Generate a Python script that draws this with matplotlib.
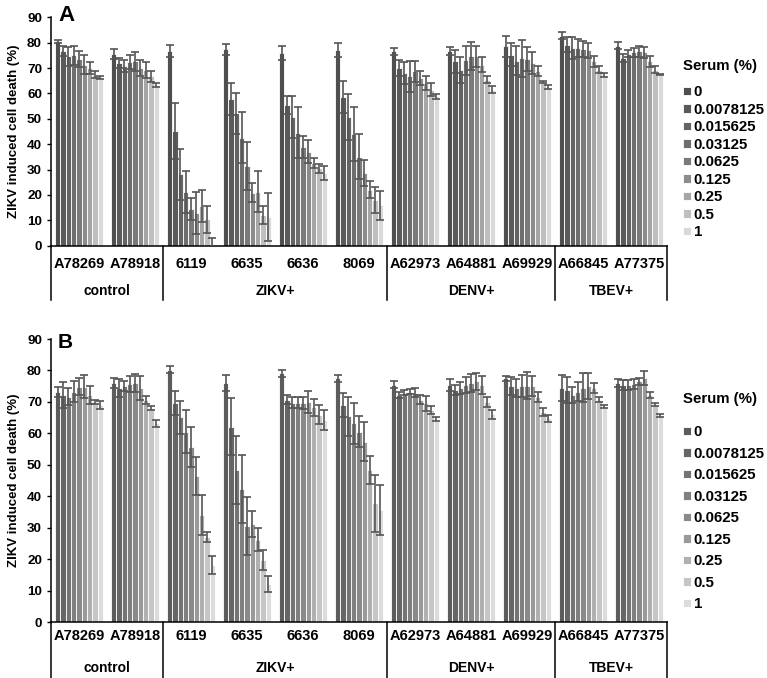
import numpy as np
import matplotlib
matplotlib.use('Agg')
import matplotlib.pyplot as plt

plt.rcParams['font.family'] = ['Liberation Sans', 'DejaVu Sans']
plt.rcParams['font.weight'] = 'bold'

#%%
# Data (ZIKV induced cell death, %)
samples = ['A78269', 'A78918', '6119', '6635', '6636', '8069',
           'A62973', 'A64881', 'A69929', 'A66845', 'A77375']
groups = ['control', 'ZIKV+', 'DENV+', 'TBEV+']
group_sizes = [2, 4, 3, 2]
serum = ['0', '0.0078125', '0.015625', '0.03125', '0.0625',
         '0.125', '0.25', '0.5', '1']

# panel A, one row per sample, one column per serum dilution
a_vals = [
    [80.5, 76.6, 74.6, 75.1, 73.6, 71.3, 70.0, 67.4, 66.4],
    [75.5, 72.0, 70.7, 72.5, 72.6, 70.0, 69.3, 66.7, 63.4],
    [76.6, 45.3, 28.2, 21.3, 14.3, 13.0, 15.6, 10.4, 0.3],
    [77.4, 57.8, 52.2, 42.6, 31.5, 20.9, 21.3, 12.1, 11.4],
    [75.9, 55.5, 50.7, 44.6, 39.0, 37.1, 32.5, 30.5, 28.8],
    [77.2, 58.6, 50.7, 43.9, 35.1, 28.6, 22.0, 18.0, 16.0],
    [76.6, 70.0, 68.0, 66.7, 68.7, 66.0, 64.0, 61.4, 58.8],
    [76.6, 72.6, 69.3, 73.0, 74.6, 74.6, 71.3, 65.4, 61.4],
    [78.6, 75.3, 72.9, 73.9, 73.6, 72.0, 68.7, 64.5, 62.5],
    [82.8, 79.2, 77.9, 77.9, 77.5, 77.0, 72.6, 69.4, 67.2],
    [78.8, 74.0, 75.7, 76.2, 76.6, 76.2, 72.6, 69.4, 67.4],
]
a_errs = [
    [0.5, 2.0, 3.6, 3.7, 3.0, 3.7, 2.2, 1.3, 0.6],
    [2.0, 1.8, 2.3, 2.8, 3.6, 3.3, 3.2, 2.3, 0.9],
    [2.4, 11.0, 10.0, 8.3, 4.3, 8.3, 6.3, 5.3, 2.9],
    [2.1, 6.4, 8.1, 10.0, 9.5, 3.7, 8.1, 3.5, 9.5],
    [2.7, 3.5, 8.3, 9.9, 4.3, 4.6, 2.0, 1.7, 2.8],
    [2.7, 6.4, 9.0, 10.6, 8.9, 5.2, 3.3, 5.0, 5.7],
    [1.3, 3.0, 4.4, 6.2, 4.2, 2.7, 2.7, 2.6, 0.8],
    [1.6, 4.6, 5.0, 5.8, 5.5, 4.2, 3.0, 1.3, 1.4],
    [4.2, 4.6, 5.7, 7.3, 4.7, 4.2, 2.0, 0.3, 0.9],
    [1.4, 3.0, 4.3, 3.5, 3.0, 3.0, 2.2, 1.3, 0.8],
    [1.4, 1.6, 1.5, 1.8, 2.2, 2.1, 2.2, 1.3, 0.3],
]

# panel B
b_vals = [
    [73.3, 72.2, 71.7, 73.3, 74.9, 74.9, 72.2, 70.1, 69.0],
    [76.0, 74.4, 75.1, 75.7, 76.0, 74.4, 70.7, 68.0, 63.2],
    [80.2, 69.8, 65.1, 60.6, 55.8, 46.5, 34.1, 27.2, 18.2],
    [76.0, 62.2, 48.4, 42.3, 30.7, 31.2, 26.2, 19.8, 12.2],
    [79.1, 70.7, 69.8, 69.8, 69.6, 70.0, 68.3, 66.0, 64.3],
    [77.5, 69.1, 65.4, 63.2, 60.6, 57.4, 48.4, 37.8, 35.7],
    [75.4, 72.2, 73.0, 73.3, 73.0, 70.7, 69.6, 67.5, 64.5],
    [75.4, 73.8, 74.4, 75.4, 76.0, 76.5, 75.4, 70.1, 66.1],
    [77.5, 75.1, 74.4, 75.1, 75.1, 75.1, 71.7, 66.9, 64.8],
    [74.4, 73.8, 72.2, 73.3, 74.5, 75.0, 74.5, 70.7, 68.5],
    [76.0, 75.4, 75.4, 75.7, 76.5, 77.5, 72.2, 69.1, 65.6],
]
b_errs = [
    [1.6, 4.0, 2.7, 3.2, 2.6, 3.7, 2.9, 0.6, 1.2],
    [1.5, 2.8, 1.6, 2.6, 2.8, 3.9, 1.2, 0.6, 1.0],
    [1.1, 3.8, 5.2, 6.9, 6.4, 6.1, 6.4, 1.6, 2.9],
    [2.6, 9.0, 10.8, 10.9, 9.2, 4.0, 3.7, 3.2, 2.5],
    [1.1, 1.5, 1.7, 1.7, 1.9, 3.5, 2.7, 3.0, 3.2],
    [1.1, 3.9, 6.3, 6.4, 5.0, 6.1, 4.5, 9.0, 7.9],
    [1.1, 1.1, 0.8, 0.7, 1.3, 1.5, 2.4, 1.3, 0.6],
    [1.8, 1.6, 1.8, 2.5, 2.9, 2.6, 2.9, 1.6, 1.4],
    [0.8, 2.8, 2.8, 3.5, 4.3, 3.2, 1.6, 1.3, 1.1],
    [4.2, 4.2, 2.5, 3.0, 4.6, 4.2, 1.5, 0.8, 0.5],
    [1.3, 1.6, 1.6, 1.5, 1.1, 2.2, 1.1, 0.5, 0.5],
]

a_colors = ['#4f4f4f', '#5a5a5a', '#646464', '#6e6e6e', '#7a7a7a',
            '#8c8c8c', '#a6a6a6', '#bfbfbf', '#d9d9d9']
b_colors = ['#5c5c5c', '#666666', '#747474', '#808080', '#8a8a8a',
            '#9a9a9a', '#b0b0b0', '#c6c6c6', '#dcdcdc']

#%%
W, H = 767, 678
fig = plt.figure(figsize=(W / 100, H / 100), dpi=100)


def draw_panel(ax, vals, errs, colors, letter, label_off, cat_off, line_len,
               leg_top, leg_space, title_sep):
    vals = np.array(vals)
    errs = np.array(errs)
    n_s = len(serum)
    x = np.arange(len(samples))
    w = 48 / 56 / n_s
    handles = []
    for j in range(n_s):
        xs = x + (j - (n_s - 1) / 2) * w
        b = ax.bar(xs, vals[:, j], width=w, color=colors[j],
                   edgecolor='white', linewidth=0.6, label=serum[j], zorder=2)
        handles.append(b)
        ax.errorbar(xs, vals[:, j], yerr=errs[:, j], fmt='none',
                    ecolor='#555555', elinewidth=1.2, capsize=2.6,
                    capthick=1.2, zorder=3)

    ax.set_xlim(-0.5, len(samples) - 0.5)
    ax.set_ylim(0, 90)
    ax.set_yticks(np.arange(0, 91, 10))
    ax.set_xticks([])
    ax.tick_params(axis='y', direction='out', length=3, width=1, pad=3.5,
                   labelsize=9.7)
    for t in ax.get_yticklabels():
        t.set_fontweight('bold')
    for s in ['top', 'right']:
        ax.spines[s].set_visible(False)
    ax.spines['left'].set_linewidth(1.1)
    ax.spines['bottom'].set_linewidth(1.1)
    ax.set_ylabel('ZIKV induced cell death (%)', fontsize=9.5,
                  fontweight='bold')
    ax.yaxis.set_label_coords(-0.05, 0.5)

    # sample names and group names under the axis
    for i, s in enumerate(samples):
        ax.annotate(s, (x[i], 0), xycoords=('data', 'axes fraction'),
                    xytext=(0, -label_off), textcoords='offset points',
                    ha='center', va='center', fontsize=10.5,
                    fontweight='bold')
    edges = np.concatenate([[0], np.cumsum(group_sizes)]) - 0.5
    for k, g in enumerate(groups):
        ax.annotate(g, ((edges[k] + edges[k + 1]) / 2, 0),
                    xycoords=('data', 'axes fraction'),
                    xytext=(0, -cat_off), textcoords='offset points',
                    ha='center', va='center', fontsize=10,
                    fontweight='bold')
    for e in edges:
        ax.plot([e, e], [0, -line_len], color='black', lw=1.1,
                clip_on=False, zorder=4)

    pos = ax.get_position()
    fig.text(58 / W, pos.y1 + (2 / H) if letter == 'A' else pos.y1 - 3 / H,
             letter, fontsize=16 if letter == 'A' else 15, fontweight='bold',
             ha='left', va='center')

    leg = fig.legend(handles=handles, labels=serum, title='Serum (%)',
                     loc='upper left', bbox_to_anchor=(683 / W, 1 - leg_top / H),
                     frameon=False, fontsize=10.8, title_fontsize=10.8,
                     handlelength=0.5, handleheight=0.5, handletextpad=0.22,
                     labelspacing=leg_space, borderpad=0, borderaxespad=0,
                     alignment='left')
    leg.get_title().set_fontweight('bold')
    for t in leg.get_texts():
        t.set_fontweight('bold')
    leg._legend_box.sep = title_sep
    return leg


ax_a = fig.add_axes([51 / W, 1 - 245.7 / H, 616 / W, 228.4 / H])
ax_b = fig.add_axes([51 / W, 1 - 622.3 / H, 616 / W, 283.3 / H])

draw_panel(ax_a, a_vals, a_errs, a_colors, 'A', 13.5, 32.5, 21.3,
           59, 0.23, 9)
draw_panel(ax_b, b_vals, b_errs, b_colors, 'B', 9.8, 33, 17.7,
           392, 0.5, 14)

fig.savefig('out.png', dpi=100)
